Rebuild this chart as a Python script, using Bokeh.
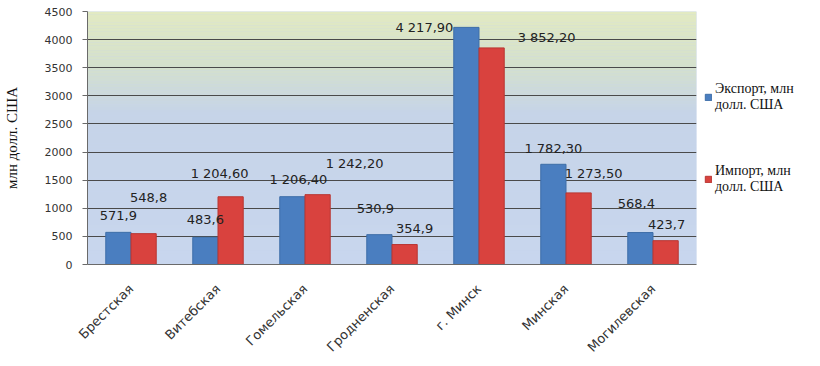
import math
from bokeh.plotting import figure
from bokeh.models import (ColumnDataSource, FixedTicker, LabelSet, Legend,
                          LegendItem, BoxAnnotation)
from bokeh.transform import dodge
from bokeh.core.properties import value
from bokeh.embed import file_html
from bokeh.resources import INLINE

# ---- data ----
regions = ["Брестская", "Витебская", "Гомельская", "Гродненская",
           "г. Минск", "Минская", "Могилевская"]
export_vals = [571.9, 483.6, 1206.4, 530.9, 4217.9, 1782.3, 568.4]
import_vals = [548.8, 1204.6, 1242.2, 354.9, 3852.2, 1273.5, 423.7]
export_text = ["571,9", "483,6", "1 206,40", "530,9", "4 217,90", "1 782,30", "568,4"]
import_text = ["548,8", "1 204,60", "1 242,20", "354,9", "3 852,20", "1 273,50", "423,7"]
y_ticks = [0, 500, 1000, 1500, 2000, 2500, 3000, 3500, 4000, 4500]
series_names = ["Экспорт, млн\nдолл. США", "Импорт, млн\nдолл. США"]
y_title = "млн долл. США"

# ---- label placement (style, screen px) ----
exp_dx = [0, 0, 6, -4, -42, 0, -4]
exp_dy = [17, 18, 17, 26, 0, 16, 29]
imp_dx = [5, -11, 37, 10, 55, 15, 1]
imp_dy = [36, 23, 31, 16, 10, 19, 16]

src = ColumnDataSource(dict(cat=regions, exp=export_vals, imp=import_vals,
                            exp_t=export_text, imp_t=import_text,
                            exp_dx=exp_dx, exp_dy=exp_dy,
                            imp_dx=imp_dx, imp_dy=imp_dy))

p = figure(x_range=regions, y_range=(0, 4500), frame_width=609, frame_height=253,
           output_backend="svg", toolbar_location=None,
           min_border_left=85, min_border_right=110,
           min_border_top=11, min_border_bottom=94)
p.outline_line_color = None
p.background_fill_color = "#c7d5ec"
p.border_fill_color = "white"

# gradient background (green top -> blue)
stops = [(4500, (226, 234, 194)), (3500, (212, 224, 205)),
         (2700, (198, 212, 232)), (0, (200, 214, 238))]
def col_at(v):
    for (v1, c1), (v2, c2) in zip(stops[:-1], stops[1:]):
        if v2 <= v <= v1:
            t = (v1 - v) / (v1 - v2)
            c = [round(a + (b - a) * t) for a, b in zip(c1, c2)]
            return "#%02x%02x%02x" % tuple(c)
    return "#c8d6ee"
step = 50
for b in range(0, 4500, step):
    p.add_layout(BoxAnnotation(bottom=b, top=b + step, fill_color=col_at(b + step / 2),
                               fill_alpha=1, line_alpha=0, level="image"))

w = 0.29
r1 = p.vbar(x=dodge("cat", -w / 2, range=p.x_range), top="exp", width=w, source=src,
            fill_color="#4a7ec0", line_color="#3e6ea8")
r2 = p.vbar(x=dodge("cat", w / 2, range=p.x_range), top="imp", width=w, source=src,
            fill_color="#d9423e", line_color="#b83632")

lab_kw = dict(text_font=value("DejaVu Sans"), text_font_size=value("13px"),
              text_color="#222222", text_align="center", text_baseline="middle")
p.add_layout(LabelSet(x=dodge("cat", -w / 2, range=p.x_range), y="exp", text="exp_t",
                      x_offset="exp_dx", y_offset="exp_dy", source=src, **lab_kw))
p.add_layout(LabelSet(x=dodge("cat", w / 2, range=p.x_range), y="imp", text="imp_t",
                      x_offset="imp_dx", y_offset="imp_dy", source=src, **lab_kw))

# axes
p.yaxis.ticker = FixedTicker(ticks=y_ticks)
p.yaxis.major_label_text_font = "DejaVu Sans"
p.yaxis.major_label_text_font_size = "11px"
p.yaxis.major_label_text_color = "#333333"
p.yaxis.axis_line_color = "#6a6a6a"
p.yaxis.major_tick_line_color = "#6a6a6a"
p.yaxis.major_tick_out = 5
p.yaxis.major_tick_in = 0
p.yaxis.minor_tick_line_color = None
p.yaxis.major_label_standoff = 10
p.yaxis.axis_label = y_title
p.yaxis.axis_label_text_font = "Liberation Serif"
p.yaxis.axis_label_text_font_size = "15px"
p.yaxis.axis_label_text_font_style = "normal"
p.yaxis.axis_label_text_color = "#111111"
p.yaxis.axis_label_standoff = 22

p.xaxis.major_label_orientation = math.pi / 4
p.xaxis.major_label_text_font = "DejaVu Sans"
p.xaxis.major_label_text_font_size = "13px"
p.xaxis.major_label_text_color = "#333333"
p.xaxis.axis_line_color = "#6a6a6a"
p.xaxis.major_tick_line_color = None
p.xaxis.major_label_standoff = 16

p.xgrid.grid_line_color = None
p.ygrid.grid_line_color = "#4a4a4a"
p.ygrid.grid_line_width = 1

legend = Legend(items=[LegendItem(label=series_names[0], renderers=[r1]),
                       LegendItem(label=series_names[1], renderers=[r2])],
                location="center_left", orientation="vertical",
                label_text_font="Liberation Serif", label_text_font_size="14px",
                label_text_color="#111111", glyph_width=8, glyph_height=8,
                spacing=50, padding=0, margin=8, label_standoff=3,
                background_fill_alpha=0, border_line_color=None)
p.add_layout(legend, "right")

open("out.html", "w").write(file_html(p, INLINE))
